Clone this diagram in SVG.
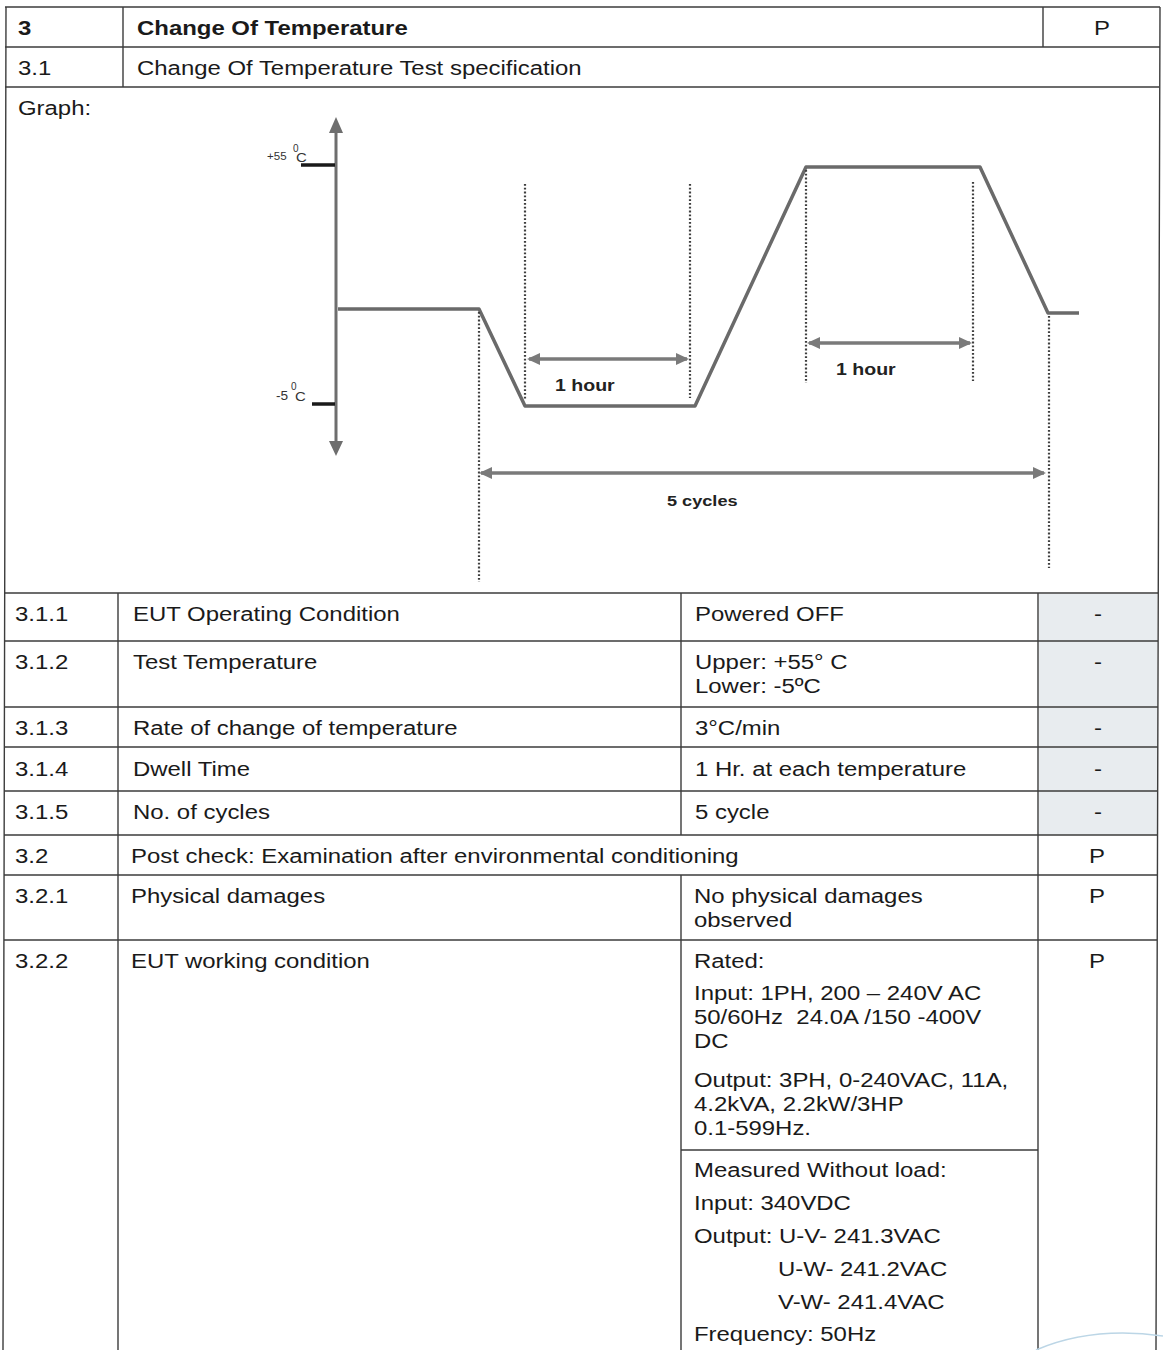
<svg xmlns="http://www.w3.org/2000/svg" width="1163" height="1350" viewBox="0 0 1163 1350">
<style>
.bg{fill:#ffffff}
.grid{stroke:#3c3c3c;stroke-width:1.4;fill:none}
.shade{fill:#e8ecef}
.t{font-family:"Liberation Sans",Arial,sans-serif;font-size:21px;fill:#1a1a1a}
.b{font-weight:bold}
.axis{stroke:#6e6e6e;stroke-width:3;fill:none}
.tick{stroke:#1a1a1a;stroke-width:3.5}
.curve{stroke:#6a6a6a;stroke-width:3.5;fill:none;stroke-linejoin:round}
.dot{stroke:#3e3e3e;stroke-width:2.2;stroke-dasharray:1.8 2;fill:none}
.dim{stroke:#7a7a7a;stroke-width:3.5;fill:none}
.gl{font-family:"Liberation Sans",Arial,sans-serif;font-weight:bold;fill:#222}
.al{font-family:"Liberation Sans",Arial,sans-serif;fill:#333}
.head{fill:#6e6e6e}
</style>
<defs>
<marker id="ah" markerUnits="userSpaceOnUse" markerWidth="14" markerHeight="12" refX="11" refY="6" orient="auto-start-reverse">
<path d="M0,0 L13,6 L0,12 z" fill="#7a7a7a"/>
</marker>
</defs>
<rect class="bg" x="0" y="0" width="1163" height="1350"/>

<g id="grid">
<rect class="shade" x="1039" y="594" width="118" height="241"/>
<path class="grid" d="M5,7 H1160 M5,47 H1160 M5,87 H1159 M4,593 H1158 M4,641 H1158 M4,707 H1158 M4,747 H1158 M4,791 H1158 M4,835 H1157 M4,875 H1157 M4,940 H1157"/>
<path class="grid" d="M6,7 L3,1350 M1160,7 L1156,1350"/>
<path class="grid" d="M123,7 V87 M1043,7 V47"/>
<path class="grid" d="M118,593 V1350 M681,593 V835 M681,875 V1350 M1038,593 V1350 M681,1150 H1038"/>
</g>

<g id="table-text" class="t" transform="scale(1.14,1)">
<g id="row-3">
<text class="b" x="15.79" y="35">3</text>
<text class="b" x="120.18" y="35">Change Of Temperature</text>
<text x="966.67" y="35" text-anchor="middle">P</text>
</g>
<g id="row-3-1">
<text x="15.79" y="75">3.1</text>
<text x="120.18" y="75">Change Of Temperature Test specification</text>
</g>
<g id="row-graph">
<text x="15.79" y="115">Graph:</text>
</g>
<g id="row-3-1-1">
<text x="13.16" y="621">3.1.1</text>
<text x="116.67" y="621">EUT Operating Condition</text>
<text x="609.65" y="621">Powered OFF</text>
<text x="963.16" y="621" text-anchor="middle">-</text>
</g>
<g id="row-3-1-2">
<text x="13.16" y="669">3.1.2</text>
<text x="116.67" y="669">Test Temperature</text>
<text x="609.65" y="669">Upper: +55° C</text>
<text x="609.65" y="693">Lower: -5ºC</text>
<text x="963.16" y="669" text-anchor="middle">-</text>
</g>
<g id="row-3-1-3">
<text x="13.16" y="735">3.1.3</text>
<text x="116.67" y="735">Rate of change of temperature</text>
<text x="609.65" y="735">3°C/min</text>
<text x="963.16" y="735" text-anchor="middle">-</text>
</g>
<g id="row-3-1-4">
<text x="13.16" y="776">3.1.4</text>
<text x="116.67" y="776">Dwell Time</text>
<text x="609.65" y="776">1 Hr. at each temperature</text>
<text x="963.16" y="776" text-anchor="middle">-</text>
</g>
<g id="row-3-1-5">
<text x="13.16" y="819">3.1.5</text>
<text x="116.67" y="819">No. of cycles</text>
<text x="609.65" y="819">5 cycle</text>
<text x="963.16" y="819" text-anchor="middle">-</text>
</g>
<g id="row-3-2">
<text x="13.16" y="863">3.2</text>
<text x="114.91" y="863">Post check: Examination after environmental conditioning</text>
<text x="962.28" y="863" text-anchor="middle">P</text>
</g>
<g id="row-3-2-1">
<text x="13.16" y="903">3.2.1</text>
<text x="114.91" y="903">Physical damages</text>
<text x="608.77" y="903">No physical damages</text>
<text x="608.77" y="927">observed</text>
<text x="962.28" y="903" text-anchor="middle">P</text>
</g>
<g id="row-3-2-2">
<text x="13.16" y="968">3.2.2</text>
<text x="114.91" y="968">EUT working condition</text>
<text x="608.77" y="968">Rated:</text>
<text x="608.77" y="1000">Input: 1PH, 200 – 240V AC</text>
<text x="608.77" y="1024" xml:space="preserve">50/60Hz  24.0A /150 -400V</text>
<text x="608.77" y="1048">DC</text>
<text x="608.77" y="1087">Output: 3PH, 0-240VAC, 11A,</text>
<text x="608.77" y="1111">4.2kVA, 2.2kW/3HP</text>
<text x="608.77" y="1135">0.1-599Hz.</text>
<text x="608.77" y="1177">Measured Without load:</text>
<text x="608.77" y="1210">Input: 340VDC</text>
<text x="608.77" y="1243">Output: U-V- 241.3VAC</text>
<text x="682.46" y="1276">U-W- 241.2VAC</text>
<text x="682.46" y="1309">V-W- 241.4VAC</text>
<text x="608.77" y="1341">Frequency: 50Hz</text>
<text x="962.28" y="968" text-anchor="middle">P</text>
</g>
</g>

<g id="graph-axis">
<line class="axis" x1="336" y1="130" x2="336" y2="444"/>
<polygon class="head" points="329,133 336,117 343,133"/>
<polygon class="head" points="329,441 336,456 343,441"/>
<line class="tick" x1="301" y1="165" x2="335" y2="165"/>
<line class="tick" x1="312" y1="404" x2="335" y2="404"/>
</g>
<g id="label-55">
<text class="al" font-size="11" transform="translate(267 160) scale(1.05 1)">+55</text>
<text class="al" font-size="10" x="293" y="152">0</text>
<text class="al" font-size="13" transform="translate(296 162) scale(1.15 1)">C</text>
</g>
<g id="label-m5">
<text class="al" font-size="13" transform="translate(276 400) scale(1.05 1)">-5</text>
<text class="al" font-size="10" x="291" y="390">0</text>
<text class="al" font-size="13" transform="translate(295 401) scale(1.15 1)">C</text>
</g>

<g id="profile">
<path class="curve" d="M338,309 L479,309 L525,406 L695,406 L806,167 L980,167 L1048,313 L1079,313"/>
</g>

<g id="connectors">
<line class="dot" x1="479" y1="312" x2="479" y2="582"/>
<line class="dot" x1="525" y1="184" x2="525" y2="400"/>
<line class="dot" x1="690" y1="184" x2="690" y2="398"/>
<line class="dot" x1="806" y1="170" x2="806" y2="383"/>
<line class="dot" x1="973" y1="182" x2="973" y2="381"/>
<line class="dot" x1="1049" y1="316" x2="1049" y2="568"/>
<line class="dim" x1="529" y1="359" x2="687" y2="359" marker-start="url(#ah)" marker-end="url(#ah)"/>
<line class="dim" x1="809" y1="343" x2="970" y2="343" marker-start="url(#ah)" marker-end="url(#ah)"/>
<line class="dim" x1="481" y1="473" x2="1044" y2="473" marker-start="url(#ah)" marker-end="url(#ah)"/>
</g>

<g id="graph-labels">
<text class="gl" font-size="17" transform="translate(555 391) scale(1.15 1)">1 hour</text>
<text class="gl" font-size="17" transform="translate(836 375) scale(1.15 1)">1 hour</text>
<text class="gl" font-size="15.5" transform="translate(667 506) scale(1.17 1)">5 cycles</text>
</g>

<path id="stamp" d="M1036,1350 Q1092,1326 1163,1336" stroke="#bcd6e6" stroke-width="1.6" fill="none"/>
</svg>
